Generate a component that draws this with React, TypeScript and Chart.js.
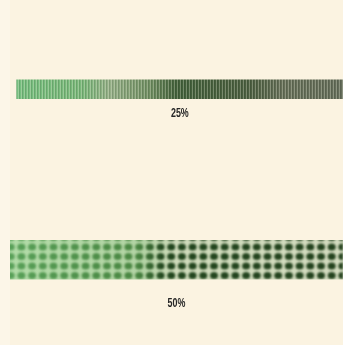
import React, { useEffect, useRef } from "react";
import { Chart, registerables } from "chart.js";

Chart.register(...registerables);

const categories = ["25%", "50%"];
const barStart = [2, 0];
const barEnd = [100, 100];

const patternCache: Record<string, CanvasPattern | null> = {};

function makePattern(chart: any, kind: number): CanvasPattern | string {
  const key = kind + "_" + chart.width + "x" + chart.height;
  if (patternCache[key]) return patternCache[key] as CanvasPattern;
  const area = chart.chartArea;
  if (!area) return "#6a9a60";
  const c = document.createElement("canvas");
  c.width = chart.width;
  c.height = chart.height;
  const g = c.getContext("2d")!;
  const L = area.left;
  const R = area.right;
  if (kind === 0) {
    const grad = g.createLinearGradient(L, 0, R, 0);
    grad.addColorStop(0, "rgb(118,192,128)");
    grad.addColorStop(0.22, "rgb(122,184,122)");
    grad.addColorStop(0.3, "rgb(150,176,136)");
    grad.addColorStop(0.42, "rgb(112,142,98)");
    grad.addColorStop(0.5, "rgb(66,96,58)");
    grad.addColorStop(0.72, "rgb(76,94,64)");
    grad.addColorStop(0.82, "rgb(102,110,88)");
    grad.addColorStop(1, "rgb(100,108,90)");
    g.fillStyle = grad;
    g.fillRect(0, 0, c.width, c.height);
    g.fillStyle = "rgba(235,240,220,0.3)";
    for (let x = 0; x < c.width; x += 3) g.fillRect(x, 0, 1, c.height);
    g.fillStyle = "rgba(20,40,20,0.15)";
    for (let x = 1; x < c.width; x += 3) g.fillRect(x, 0, 1, c.height);
  } else {
    const base = g.createLinearGradient(L, 0, R, 0);
    base.addColorStop(0, "rgb(178,220,168)");
    base.addColorStop(0.4, "rgb(180,212,165)");
    base.addColorStop(0.5, "rgb(208,220,188)");
    base.addColorStop(1, "rgb(212,220,192)");
    g.fillStyle = base;
    g.fillRect(0, 0, c.width, c.height);
    const d = document.createElement("canvas");
    d.width = c.width;
    d.height = c.height;
    const dg = d.getContext("2d")!;
    const dot = dg.createLinearGradient(L, 0, R, 0);
    dot.addColorStop(0, "rgb(88,160,88)");
    dot.addColorStop(0.38, "rgb(74,134,66)");
    dot.addColorStop(0.46, "rgb(34,70,30)");
    dot.addColorStop(1, "rgb(36,66,30)");
    dg.fillStyle = dot;
    const px = 10.7;
    const py = 9.5;
    for (let y = 0; y < d.height + py; y += py) {
      for (let x = 0; x < d.width + px; x += px) {
        dg.beginPath();
        dg.ellipse(x, y, 4, 3.6, 0, 0, Math.PI * 2);
        dg.fill();
      }
    }
    g.save();
    g.filter = "blur(1px)";
    g.drawImage(d, 0, 0);
    g.restore();
  }
  const p = chart.ctx.createPattern(c, "no-repeat");
  patternCache[key] = p;
  return p || "#6a9a60";
}

const labelPlugin = {
  id: "barLabels",
  afterDatasetsDraw(chart: any) {
    const ctx = chart.ctx;
    chart.data.datasets.forEach((ds: any, i: number) => {
      const meta = chart.getDatasetMeta(i);
      meta.data.forEach((el: any, j: number) => {
        if (ds.data[j] == null) return;
        const cx = (el.x + el.base) / 2;
        const cy = el.y + el.height / 2 + ds.labelGap;
        ctx.save();
        ctx.font = "bold 12px 'Liberation Sans', Arial, sans-serif";
        ctx.fillStyle = "#262626";
        ctx.textAlign = "center";
        ctx.textBaseline = "middle";
        ctx.translate(cx, cy);
        ctx.scale(0.74, 1);
        ctx.fillText(chart.data.labels[j], 0, 0);
        ctx.restore();
      });
    });
  },
};

export default function App() {
  const ref = useRef<HTMLCanvasElement>(null);
  useEffect(() => {
    document.body.style.margin = "0";
    document.body.style.background = "#fcf6e8";
    const canvas = ref.current!;
    const thickness = [19, 39];
    const gaps = [15, 24];
    const chart = new Chart(canvas, {
      type: "bar",
      data: {
        labels: categories,
        datasets: categories.map((_, i) => ({
          label: categories[i],
          data: categories.map((__, j) => (j === i ? [barStart[i], barEnd[i]] : null)),
          barThickness: thickness[i],
          grouped: false,
          borderWidth: 0,
          labelGap: gaps[i],
          backgroundColor: (ctx: any) => makePattern(ctx.chart, i),
        })) as any,
      },
      options: {
        indexAxis: "y",
        animation: false,
        responsive: false,
        maintainAspectRatio: false,
        layout: { padding: { top: 4, left: 10, right: 0, bottom: 0 } },
        plugins: { legend: { display: false }, tooltip: { enabled: false } },
        scales: {
          x: { type: "linear", min: 0, max: 100, display: false },
          y: { type: "category", display: false },
        },
      },
      plugins: [
        labelPlugin,
        {
          id: "bg",
          beforeDraw(chart: any) {
            const c = chart.ctx;
            c.save();
            c.fillStyle = "#fbf3e1";
            c.fillRect(chart.chartArea.left, 0, chart.width - chart.chartArea.left, chart.height);
            c.restore();
          },
        },
      ],
    });
    return () => chart.destroy();
  }, []);
  return (
    <div style={{ width: 343, height: 345 }}>
      <canvas ref={ref} width={343} height={345} style={{ display: "block" }} />
    </div>
  );
}
